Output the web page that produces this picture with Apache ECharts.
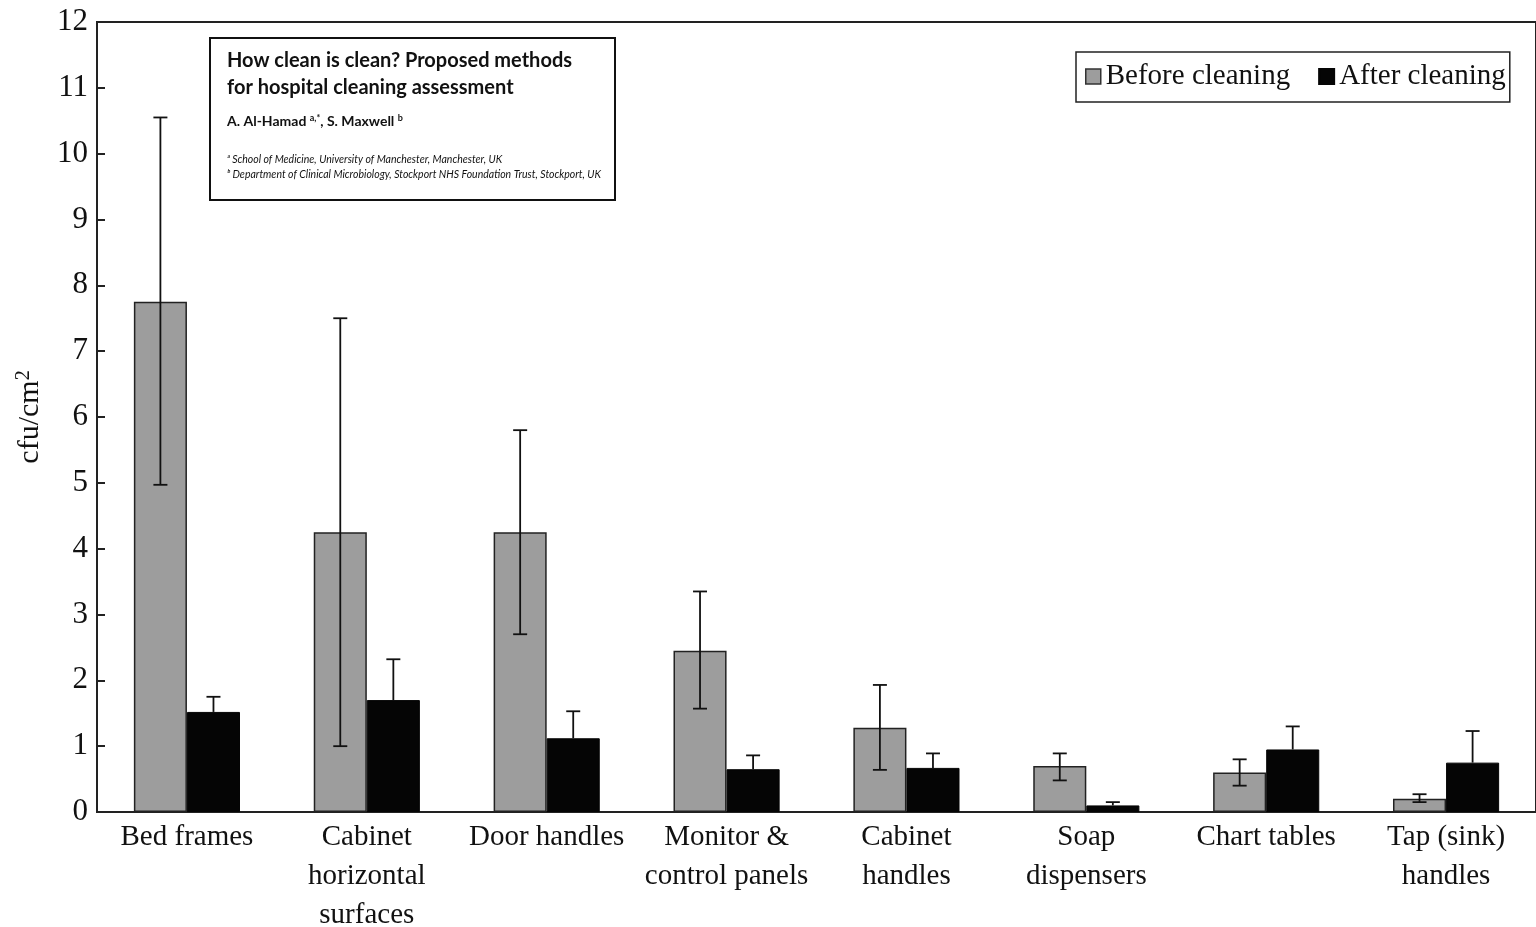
<!DOCTYPE html>
<html><head><meta charset="utf-8">
<script src="https://cdn.jsdelivr.net/npm/echarts@6/dist/echarts.min.js"></script>
<style>html,body{margin:0;padding:0;background:#fff}#c{width:1536px;height:927px}</style>
</head><body><div id="c"></div>
<script>
const categories = ['Bed frames','Cabinet\nhorizontal\nsurfaces','Door handles','Monitor &\ncontrol panels','Cabinet\nhandles','Soap\ndispensers','Chart tables','Tap (sink)\nhandles'];
const before = [7.75, 4.25, 4.25, 2.45, 1.28, 0.70, 0.60, 0.20];
const beforeLow = [4.97, 1.00, 2.70, 1.57, 0.64, 0.48, 0.40, 0.15];
const beforeHigh = [10.55, 7.50, 5.80, 3.35, 1.93, 0.89, 0.80, 0.27];
const after = [1.52, 1.70, 1.12, 0.65, 0.67, 0.10, 0.95, 0.75];
const afterHigh = [1.75, 2.32, 1.53, 0.86, 0.89, 0.15, 1.30, 1.23];
const yTicks = [0,1,2,3,4,5,6,7,8,9,10,11,12];

const serif = '"Liberation Serif","Times New Roman",serif';
const BW = 0.295;
function errItem(side) {
  return function (params, api) {
    const i = api.value(0);
    const c = api.coord([i, 0]);
    const cw = api.size([1, 0])[0];
    const x = c[0] + side * cw * BW / 2;
    const pl = api.coord([i, api.value(1)])[1];
    const ph = api.coord([i, api.value(2)])[1];
    const cap = 7;
    const st = {stroke: '#111', lineWidth: 1.8};
    return {type: 'group', children: [
      {type: 'line', shape: {x1: x, y1: pl, x2: x, y2: ph}, style: st},
      {type: 'line', shape: {x1: x - cap, y1: ph, x2: x + cap, y2: ph}, style: st},
      {type: 'line', shape: {x1: x - cap, y1: pl, x2: x + cap, y2: pl}, style: st, invisible: side > 0}
    ]};
  };
}
const chart = echarts.init(document.getElementById('c'), null, {renderer: 'canvas'});
chart.setOption({
  animation: false,
  backgroundColor: '#fff',
  grid: {left: 97, right: 0, top: 22, bottom: 115, outerBoundsMode: 'none', containLabel: false,
         show: true, borderColor: '#222', borderWidth: 2, backgroundColor: 'transparent'},
  legend: {
    left: 1076, top: 52, padding: [10, 4, 11, 9], itemGap: 28, itemWidth: 15, itemHeight: 15,
    borderColor: '#222', borderWidth: 1.5, backgroundColor: '#fff',
    textStyle: {fontFamily: serif, fontSize: 29, color: '#111'},
    data: [{name: 'Before cleaning', icon: 'rect', itemStyle: {borderColor: '#333', borderWidth: 1.5}}, {name: 'After cleaning', icon: 'rect'}]
  },
  xAxis: {
    type: 'category', data: categories,
    axisLine: {lineStyle: {color: '#222', width: 2}},
    axisTick: {inside: true, length: 8, lineStyle: {color: '#222', width: 2}},
    axisLabel: {fontFamily: serif, fontSize: 29, color: '#111', lineHeight: 39, margin: 6, interval: 0}
  },
  yAxis: {
    type: 'value', min: yTicks[0], max: yTicks[yTicks.length - 1], interval: 1,
    name: '{a|cfu/cm}{b|2}', nameLocation: 'middle', nameGap: 51, nameRotate: 90,
    nameTextStyle: {rich: {a: {fontFamily: serif, fontSize: 30, color: '#111'}, b: {fontFamily: serif, fontSize: 20, color: '#111', verticalAlign: 'top', padding: [0,0,12,0]}}},
    axisLine: {show: true, lineStyle: {color: '#222', width: 2}},
    axisTick: {show: true, inside: true, length: 8, lineStyle: {color: '#222', width: 2}},
    splitLine: {show: false},
    axisLabel: {fontFamily: serif, fontSize: 31, color: '#111', margin: 9}
  },
  series: [
    {name: 'Before cleaning', type: 'bar', data: before, barWidth: (BW*100)+'%', barGap: '0%',
     itemStyle: {color: '#9d9d9d', borderColor: '#222', borderWidth: 1.5}, z: 2},
    {name: 'After cleaning', type: 'bar', data: after, barWidth: (BW*100)+'%', barGap: '0%',
     itemStyle: {color: '#050505', borderColor: '#050505', borderWidth: 1}, z: 2},
    {type: 'custom', renderItem: errItem(-1),
     data: before.map((v, i) => [i, beforeLow[i], beforeHigh[i]]), z: 5, silent: true},
    {type: 'custom', renderItem: errItem(1),
     data: after.map((v, i) => [i, after[i], afterHigh[i]]), z: 5, silent: true}
  ],
  graphic: [
    {type: 'group', left: 209, top: 37, children: [
      {type: 'rect', shape: {x: 0, y: 0, width: 405, height: 162}, style: {fill: '#fff', stroke: '#111', lineWidth: 2}},
      {type: 'text', x: 17, y: 13, style: {text: 'How clean is clean? Proposed methods', font: '700 20px Lato, sans-serif', fill: '#111'}},
      {type: 'text', x: 17, y: 40, style: {text: 'for hospital cleaning assessment', font: '700 20px Lato, sans-serif', fill: '#111'}},
      {type: 'text', x: 17, y: 76, style: {rich: {n: {font: '700 14px Lato, sans-serif', fill: '#111'}, s: {font: '700 9px Lato, sans-serif', fill: '#111', verticalAlign: 'top', padding: [0,0,6,0]}}, text: '{n|A. Al-Hamad }{s|a,*}{n|, S. Maxwell }{s|b}'}},
      {type: 'text', x: 17, y: 116, style: {text: 'ᵃ School of Medicine, University of Manchester, Manchester, UK', font: 'italic 10.5px Lato, sans-serif', fill: '#111'}},
      {type: 'text', x: 17, y: 131, style: {text: 'ᵇ Department of Clinical Microbiology, Stockport NHS Foundation Trust, Stockport, UK', font: 'italic 10.5px Lato, sans-serif', fill: '#111'}}
    ]}
  ]
});
</script></body></html>
